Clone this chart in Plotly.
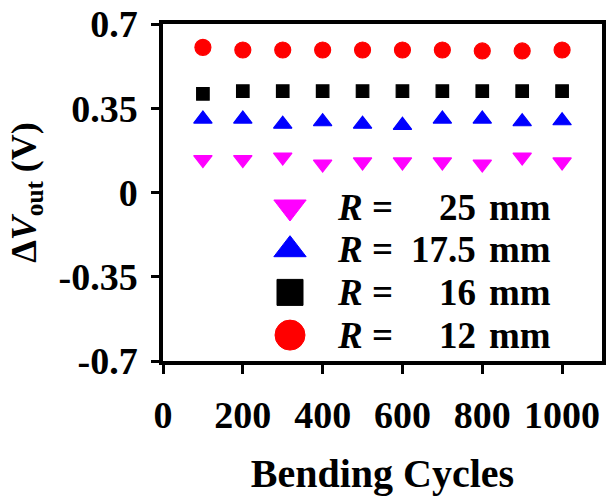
import plotly.graph_objects as go

# Bending test: output voltage change vs. number of bending cycles
cycles = [100, 200, 300, 400, 500, 600, 700, 800, 900, 1000]

dv_r25 = [0.137, 0.137, 0.147, 0.118, 0.127, 0.127, 0.127, 0.118, 0.147, 0.127]
dv_r175 = [0.305, 0.305, 0.284, 0.294, 0.284, 0.279, 0.305, 0.305, 0.294, 0.298]
dv_r16 = [0.410, 0.421, 0.421, 0.421, 0.421, 0.421, 0.421, 0.421, 0.421, 0.421]
dv_r12 = [0.603, 0.592, 0.592, 0.592, 0.592, 0.592, 0.592, 0.588, 0.588, 0.592]

radius_labels = ["25", "17.5", "16", "12"]
series_values = [dv_r25, dv_r175, dv_r16, dv_r12]
series_colors = ["#ff00ff", "#0000ff", "#000000", "#ff0000"]
series_symbols = ["triangle-down", "triangle-up", "square", "circle"]
series_sizes = [16, 16, 12.5, 16]

x_ticks = [0, 200, 400, 600, 800, 1000]
y_ticks = [-0.7, -0.35, 0, 0.35, 0.7]
y_tick_text = ["-0.7", "-0.35", "0", "0.35", "0.7"]

FONT = "Liberation Serif, Times New Roman, serif"
W, H = 615, 496
M_L, M_R, M_T, M_B = 163, 13, 24, 135
PW, PH = W - M_L - M_R, H - M_T - M_B

fig = go.Figure()

for vals, col, sym, sz in zip(series_values, series_colors, series_symbols, series_sizes):
    fig.add_trace(go.Scatter(
        x=cycles, y=vals, mode="markers",
        marker=dict(symbol=sym, size=sz, color=col, line=dict(color=col, width=1.2)),
        showlegend=False,
    ))

# Legend drawn inside the frame: big keys on a hidden overlay axis, text as annotations
key_x_px = 290
row0_px = 207
row_gap = 42.7
key_sizes = [28, 28, 26, 30]


def px_to_paper_x(px):
    return (px - M_L) / PW


def px_to_paper_y(py):
    return (M_T + PH - py) / PH


for i, (lab, col, sym) in enumerate(zip(radius_labels, series_colors, series_symbols)):
    yc = px_to_paper_y(row0_px + i * row_gap)
    fig.add_trace(go.Scatter(
        x=[px_to_paper_x(key_x_px)], y=[yc], xaxis="x2", yaxis="y2",
        mode="markers",
        marker=dict(symbol=sym, size=key_sizes[i], color=col, line=dict(color=col, width=1)),
        showlegend=False, hoverinfo="skip",
    ))
    tf = dict(family=FONT, size=37, color="black", weight="bold")
    fig.add_annotation(x=px_to_paper_x(335), y=yc, xref="paper", yref="paper",
                       text="<i>R</i> =", showarrow=False, xanchor="left", yanchor="middle", font=tf)
    fig.add_annotation(x=px_to_paper_x(478), y=yc, xref="paper", yref="paper",
                       text=lab, showarrow=False, xanchor="right", yanchor="middle", font=tf)
    fig.add_annotation(x=px_to_paper_x(487), y=yc, xref="paper", yref="paper",
                       text="mm", showarrow=False, xanchor="left", yanchor="middle", font=tf)

tick_font = dict(family=FONT, size=38, color="black", weight="bold")

fig.update_layout(
    width=W, height=H,
    margin=dict(l=M_L, r=M_R, t=M_T, b=M_B, pad=0, autoexpand=False),
    plot_bgcolor="white", paper_bgcolor="white",
    font=dict(family=FONT, color="black"),
    xaxis=dict(
        range=[0, 1100], tickvals=x_ticks, ticks="outside", ticklen=9, tickwidth=3,
        tickcolor="black", showline=True, linewidth=3.5, linecolor="black", mirror=True,
        showgrid=False, zeroline=False, tickfont=tick_font, ticklabelstandoff=9,
        automargin=False,
        title=dict(text="Bending Cycles", font=dict(family=FONT, size=40, color="black", weight="bold"),
                   standoff=27),
    ),
    yaxis=dict(
        range=[-0.7, 0.7], tickvals=y_ticks, ticktext=y_tick_text, ticks="outside", ticklen=8,
        tickwidth=3, tickcolor="black", showline=True, linewidth=3.5, linecolor="black",
        mirror=True, showgrid=False, zeroline=False, tickfont=tick_font, ticklabelstandoff=6,
        automargin=False,
        title=dict(text="<b>Δ<i>V</i><sub>out</sub> (V)</b>",
                   font=dict(family=FONT, size=36, color="black", weight="bold"), standoff=12),
    ),
    xaxis2=dict(overlaying="x", range=[0, 1], visible=False),
    yaxis2=dict(overlaying="y", range=[0, 1], visible=False),
)

fig.write_html("out.html")
